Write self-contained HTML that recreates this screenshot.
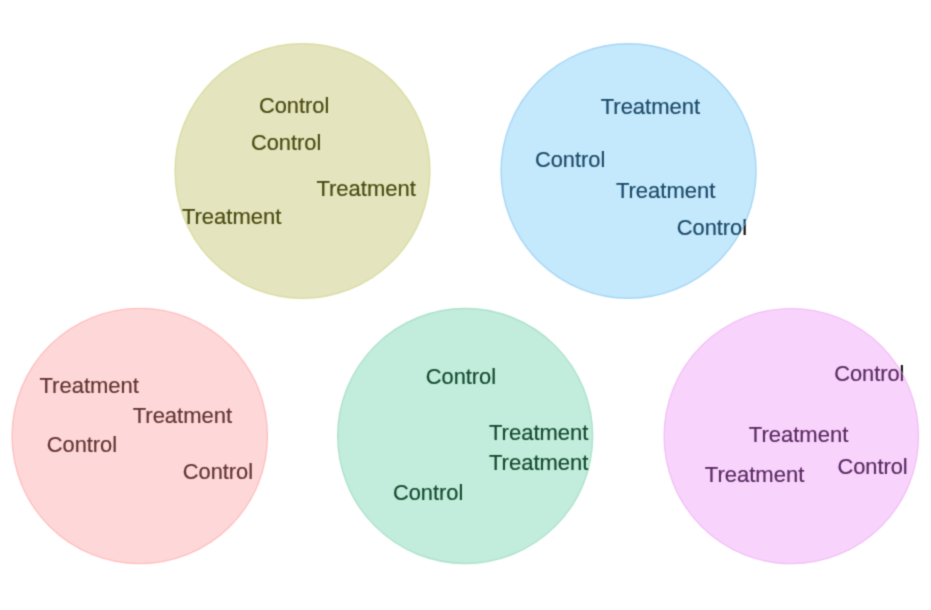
<!DOCTYPE html>
<html lang="en">
<head>
<meta charset="utf-8">
<title>Treatment and Control groups</title>
<style>
html,body{margin:0;padding:0;background:#fff;}
body{width:931px;height:610px;overflow:hidden;}
svg{display:block;will-change:transform;}
text{font-family:"Liberation Sans",Arial,Helvetica,sans-serif;stroke-width:0.2px;stroke-linejoin:round;}
.t{font-size:22.0px;}
.c{font-size:21.8px;}
.under text{fill:#0a0a0a;stroke:#0a0a0a;}
</style>
</head>
<body>
<svg width="931" height="610" viewBox="0 0 931 610">
<defs>
<clipPath id="clip0"><ellipse cx="302.5" cy="171.0" rx="127.70" ry="127.70"/></clipPath>
<clipPath id="clip1"><ellipse cx="628.55" cy="171.0" rx="127.80" ry="127.55"/></clipPath>
<clipPath id="clip2"><ellipse cx="139.75" cy="436.0" rx="127.95" ry="127.95"/></clipPath>
<clipPath id="clip3"><ellipse cx="465.2" cy="436.0" rx="127.75" ry="127.75"/></clipPath>
<clipPath id="clip4"><ellipse cx="791.3" cy="436.1" rx="127.45" ry="127.80"/></clipPath>
<filter id="soft" x="0" y="0" width="931" height="610" filterUnits="userSpaceOnUse" color-interpolation-filters="sRGB"><feConvolveMatrix order="3" kernelMatrix="0.02768 0.11101 0.02768 0.11101 0.44521 0.11101 0.02768 0.11101 0.02768" divisor="1" edgeMode="duplicate" preserveAlpha="true"/></filter>
</defs>
<g filter="url(#soft)">
<rect x="0" y="0" width="931" height="610" fill="#fff"/>
<g class="group">
<g class="under" aria-hidden="true">
<text class="t" x="181.9" y="223.8">Treatment</text>
</g>
<ellipse cx="302.5" cy="171.0" rx="127.40" ry="127.40" fill="#E4E4BE" stroke="#DADDA2" stroke-width="1.4"/>
<g clip-path="url(#clip0)" fill="#4B4B12" stroke="#4B4B12">
<text class="c" x="259.0" y="113.4">Control</text>
<text class="c" x="251.0" y="149.6">Control</text>
<text class="t" x="316.4" y="195.6">Treatment</text>
<text class="t" x="181.9" y="223.8">Treatment</text>
</g>
</g>
<g class="group">
<g class="under" aria-hidden="true">
<text class="c" x="676.8" y="235.0">Control</text>
</g>
<ellipse cx="628.55" cy="171.0" rx="127.50" ry="127.25" fill="#C4E8FC" stroke="#A6D7F5" stroke-width="1.4"/>
<g clip-path="url(#clip1)" fill="#1B4A68" stroke="#1B4A68">
<text class="t" x="600.7" y="113.5">Treatment</text>
<text class="c" x="535.0" y="167.0">Control</text>
<text class="t" x="615.9" y="198.0">Treatment</text>
<text class="c" x="676.8" y="235.0">Control</text>
</g>
</g>
<g class="group">
<ellipse cx="139.75" cy="436.0" rx="127.65" ry="127.65" fill="#FED8D8" stroke="#FFBFC0" stroke-width="1.4"/>
<g clip-path="url(#clip2)" fill="#633333" stroke="#633333">
<text class="t" x="39.5" y="393">Treatment</text>
<text class="t" x="132.7" y="422.6">Treatment</text>
<text class="c" x="46.8" y="452.4">Control</text>
<text class="c" x="182.8" y="478.5">Control</text>
</g>
</g>
<g class="group">
<g class="under" aria-hidden="true">
<text class="t" x="489" y="470.1">Treatment</text>
</g>
<ellipse cx="465.2" cy="436.0" rx="127.45" ry="127.45" fill="#C2ECDB" stroke="#ACE3CB" stroke-width="1.4"/>
<g clip-path="url(#clip3)" fill="#134A30" stroke="#134A30">
<text class="c" x="425.8" y="384.3">Control</text>
<text class="t" x="489" y="440.3">Treatment</text>
<text class="t" x="489" y="470.1">Treatment</text>
<text class="c" x="393.0" y="499.7">Control</text>
</g>
</g>
<g class="group">
<g class="under" aria-hidden="true">
<text class="c" x="834.2" y="381">Control</text>
</g>
<ellipse cx="791.3" cy="436.1" rx="127.15" ry="127.50" fill="#F8D4FC" stroke="#F2C0F7" stroke-width="1.4"/>
<g clip-path="url(#clip4)" fill="#5A2A62" stroke="#5A2A62">
<text class="c" x="834.2" y="381">Control</text>
<text class="t" x="748.8" y="442">Treatment</text>
<text class="t" x="704.8" y="481.6">Treatment</text>
<text class="c" x="837.4" y="474.4">Control</text>
</g>
</g>
</g>
</svg>
</body>
</html>
